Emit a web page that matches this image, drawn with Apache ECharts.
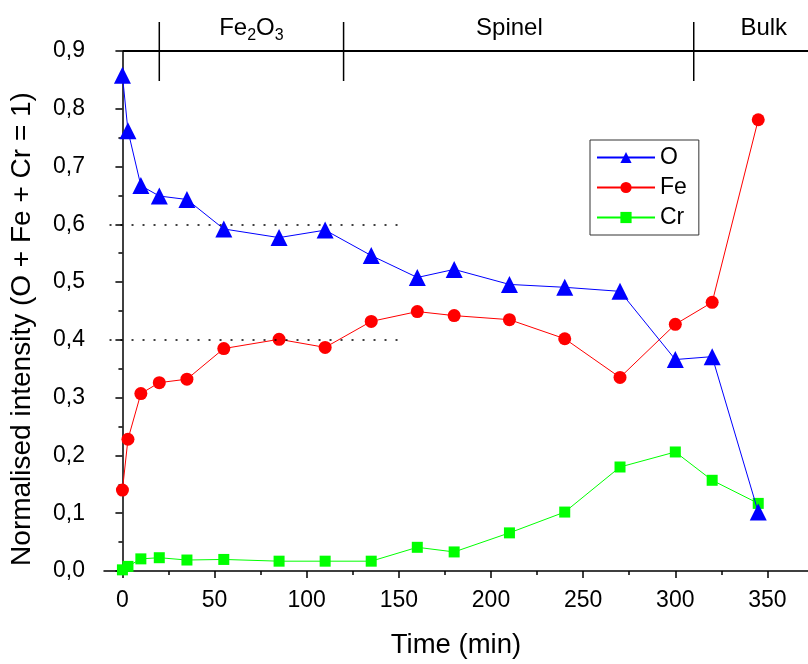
<!DOCTYPE html>
<html>
<head>
<meta charset="utf-8">
<script src="https://cdn.jsdelivr.net/npm/echarts@6/dist/echarts.min.js"></script>
<style>html,body{margin:0;padding:0;background:#fff}#c{width:808px;height:664px}</style>
</head>
<body>
<div id="c"></div>
<script>
// ---- data ----
const time = [0, 3, 10, 20, 35, 55, 85, 110, 135, 160, 180, 210, 240, 270, 300, 320, 345];
const oVals  = [0.858, 0.762, 0.667, 0.649, 0.643, 0.592, 0.577, 0.590, 0.546, 0.508, 0.522, 0.496, 0.491, 0.484, 0.366, 0.371, 0.102];
const feVals = [0.140, 0.228, 0.307, 0.326, 0.332, 0.385, 0.401, 0.387, 0.432, 0.449, 0.442, 0.435, 0.402, 0.335, 0.427, 0.465, 0.781];
const crVals = [0.002, 0.008, 0.021, 0.023, 0.019, 0.020, 0.017, 0.017, 0.017, 0.041, 0.033, 0.066, 0.102, 0.180, 0.206, 0.157, 0.117];
const seriesNames = ['O', 'Fe', 'Cr'];
const xMajorTicks = [0, 50, 100, 150, 200, 250, 300, 350];
const xMinorTicks = [25, 75, 125, 175, 225, 275, 325];
const refLevels = [0.6, 0.4];
const refRange = [-7, 150];
const phaseBounds = [20, 120, 310];
const phaseStart = 0;
const phaseLabels = ['Fe{s|2}O{s|3}', 'Spinel', 'Bulk'];
const phaseLabelPos = [70, 210, 348];

const FONT = 'Liberation Sans, Arial, sans-serif';
const pair = (xs, ys) => xs.map((x, i) => [x, ys[i]]);

const chart = echarts.init(document.getElementById('c'), null, {renderer: 'canvas'});
const X_MIN = -10, X_MAX = 372;

const axisLine = {show: true, lineStyle: {color: '#000', width: 1.5}};
const option = {
  animation: false,
  backgroundColor: '#fff',
  grid: {left: 104, right: 0, top: 51, bottom: 92, containLabel: false},
  legend: {
    data: seriesNames,
    orient: 'vertical',
    left: 590, top: 140,
    padding: [6, 12, 6, 6],
    itemGap: 7,
    itemWidth: 58, itemHeight: 14,
    borderColor: '#333', borderWidth: 1,
    textStyle: {fontFamily: FONT, fontSize: 23, color: '#000'}
  },
  xAxis: [{
    type: 'value', min: X_MIN, max: X_MAX,
    name: 'Time (min)', nameLocation: 'middle', nameGap: 60,
    nameTextStyle: {fontFamily: FONT, fontSize: 27.5, color: '#000'},
    axisLine: axisLine,
    axisTick: {show: true, inside: false, length: 7, customValues: xMajorTicks, lineStyle: {color: '#000', width: 1.5}},
    axisLabel: {show: true, customValues: xMajorTicks, margin: 18, fontFamily: FONT, fontSize: 23, color: '#000'},
    splitLine: {show: false}
  }, {
    type: 'value', min: X_MIN, max: X_MAX, position: 'bottom',
    axisLine: {show: false},
    axisTick: {show: true, inside: false, length: 4, customValues: xMinorTicks, lineStyle: {color: '#000', width: 1.5}},
    axisLabel: {show: false, customValues: xMinorTicks},
    splitLine: {show: false}
  }],
  yAxis: {
    type: 'value', min: 0, max: 0.9, interval: 0.1,
    name: 'Normalised intensity (O + Fe + Cr = 1)', nameLocation: 'middle', nameGap: 68,
    nameTextStyle: {fontFamily: FONT, fontSize: 28, color: '#000', padding: [0, 36, 0, 0]},
    axisLine: axisLine,
    axisTick: {show: true, inside: false, length: 7, lineStyle: {color: '#000', width: 1.5}},
    minorTick: {show: true, splitNumber: 2, length: 4, lineStyle: {color: '#000', width: 1.5}},
    axisLabel: {margin: 19, fontFamily: FONT, fontSize: 23, color: '#000',
      formatter: v => v.toFixed(1).replace('.', ',')},
    splitLine: {show: false}, minorSplitLine: {show: false}
  },
  series: [{
    name: 'O', type: 'line', data: pair(time, oVals), z: 4,
    symbol: 'triangle', symbolSize: 17, showAllSymbol: true,
    lineStyle: {color: '#0000ff', width: 1}, itemStyle: {color: '#0000ff'},
    markLine: {
      silent: true, symbol: 'none', label: {show: false},
      lineStyle: {color: '#000', type: [2, 9], width: 1.5},
      data: refLevels.map(v => [{coord: [refRange[0], v]}, {coord: [refRange[1], v]}])
    }
  }, {
    name: 'Fe', type: 'line', data: pair(time, feVals), z: 3,
    symbol: 'circle', symbolSize: 13,
    lineStyle: {color: '#ff0000', width: 1}, itemStyle: {color: '#ff0000'}
  }, {
    name: 'Cr', type: 'line', data: pair(time, crVals), z: 2,
    symbol: 'rect', symbolSize: 11,
    lineStyle: {color: '#00ff00', width: 1}, itemStyle: {color: '#00ff00'}
  }]
};
chart.setOption(option);

// phase annotations above the plot, positioned via the x scale
const px = t => chart.convertToPixel({xAxisIndex: 0}, t);
const lineY = 51;
const graphics = [];
graphics.push({type: 'line', shape: {x1: px(phaseStart), y1: lineY, x2: 808, y2: lineY},
  style: {stroke: '#000', lineWidth: 2}, silent: true});
phaseBounds.forEach(b => graphics.push({type: 'line',
  shape: {x1: px(b), y1: 22, x2: px(b), y2: 81}, style: {stroke: '#000', lineWidth: 1.5}, silent: true}));
phaseLabels.forEach((lab, i) => graphics.push({type: 'text', x: px(phaseLabelPos[i]), y: 28,
  style: {text: lab, fontFamily: FONT, fontSize: 24, fill: '#000', align: 'center', verticalAlign: 'middle',
    rich: {s: {fontFamily: FONT, fontSize: 16, fill: '#000', padding: [16, 0, 0, 0]}}}, silent: true}));
chart.setOption({graphic: graphics});
</script>
</body>
</html>
